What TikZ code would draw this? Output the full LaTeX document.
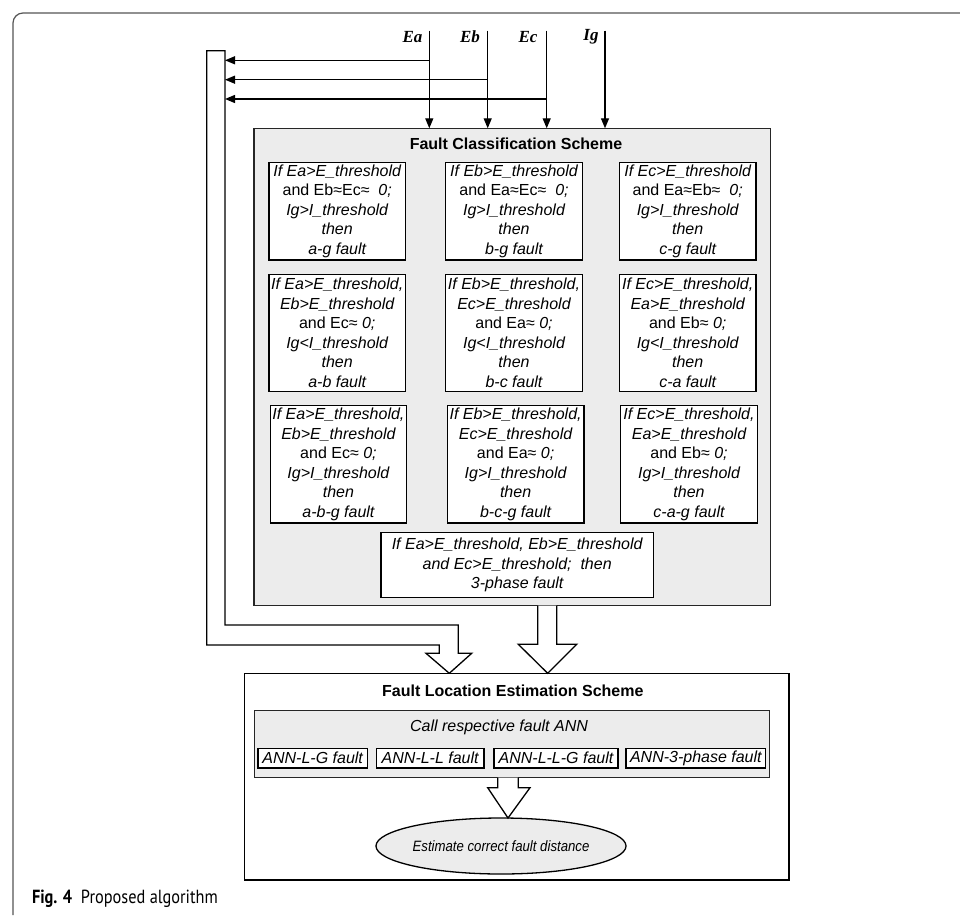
\documentclass[tikz,border=0pt]{standalone}
\usepackage{fontspec}
\setmainfont{Liberation Sans}
\newfontfamily\labelfont{Liberation Serif}
\newfontfamily\capfont[FakeStretch=0.86]{PT Sans}
\newfontfamily\narrowfont[FakeStretch=0.88]{Liberation Sans}
\usetikzlibrary{arrows.meta,shapes.geometric,calc}
\definecolor{panelgray}{HTML}{ECECEC}
\definecolor{framegray}{HTML}{555555}
\begin{document}
\begin{tikzpicture}[x=1pt,y=-1pt,
  every node/.style={inner sep=0pt, outer sep=0pt},
  txt/.style={font=\fontsize{16}{19.5}\selectfont\itshape, align=center},
  rulebox/.style={txt, draw=black, line width=1.3pt, fill=white},
  panel/.style={draw=black!85, line width=1.2pt, fill=panelgray},
  title/.style={font=\fontsize{16}{19.5}\selectfont\bfseries},
  inlabel/.style={font=\fontsize{17}{19}\selectfont\labelfont\bfseries\itshape},
  sig/.style={line width=1.3pt, -{Triangle[length=10pt,width=8pt]}},
  hollow/.style={draw=black, line width=1.3pt, fill=white, line join=miter},
  frame/.style={draw=framegray, line width=1.2pt}
]
\useasboundingbox (0,0) rectangle (960,915);

% page frame
\draw[frame, rounded corners=10pt] (13,915) -- (13,13) -- (960,13);

% caption
\node[anchor=base west, font=\fontsize{19}{21}\selectfont\capfont] (cap) at (32,903) {\textbf{Fig. 4}\ \ Proposed algorithm};

% classification panel
\node[panel, minimum width=516.7pt, minimum height=477.4pt] (fcs) at (512.35,367) {};
\node[title] (fcst) at (516,144) {Fault Classification Scheme};

% row 1
\node[rulebox, minimum width=136.5pt, minimum height=97.5pt] (b11) at (337.2,211.3)
 {If Ea>E\_threshold\\\textup{and Eb≈Ec≈}\ \ 0;\\Ig>I\_threshold\\then\\a-g fault};
\node[rulebox, minimum width=136.5pt, minimum height=97.5pt] (b12) at (514,211.3)
 {If Eb>E\_threshold\\\textup{and Ea≈Ec≈}\ \ 0;\\Ig>I\_threshold\\then\\b-g fault};
\node[rulebox, minimum width=136.5pt, minimum height=97.5pt] (b13) at (687.7,211.3)
 {If Ec>E\_threshold\\\textup{and Ea≈Eb≈}\ \ 0;\\Ig>I\_threshold\\then\\c-g fault};
% row 2
\node[rulebox, minimum width=136.5pt, minimum height=117.4pt] (b21) at (337.2,333)
 {If Ea>E\_threshold,\\Eb>E\_threshold\\\textup{and Ec≈} 0;\\Ig<I\_threshold\\then\\a-b fault};
\node[rulebox, minimum width=136.5pt, minimum height=117.4pt] (b22) at (514,333)
 {If Eb>E\_threshold,\\Ec>E\_threshold\\\textup{and Ea≈} 0;\\Ig<I\_threshold\\then\\b-c fault};
\node[rulebox, minimum width=136.5pt, minimum height=117.4pt] (b23) at (687.7,333)
 {If Ec>E\_threshold,\\Ea>E\_threshold\\\textup{and Eb≈} 0;\\Ig<I\_threshold\\then\\c-a fault};
% row 3
\node[rulebox, minimum width=136.5pt, minimum height=117.3pt] (b31) at (338.4,464.4)
 {If Ea>E\_threshold,\\Eb>E\_threshold\\\textup{and Ec≈} 0;\\Ig>I\_threshold\\then\\a-b-g fault};
\node[rulebox, minimum width=136.5pt, minimum height=117.3pt] (b32) at (515.6,464.4)
 {If Eb>E\_threshold,\\Ec>E\_threshold\\\textup{and Ea≈} 0;\\Ig>I\_threshold\\then\\b-c-g fault};
\node[rulebox, minimum width=136.5pt, minimum height=117.3pt] (b33) at (689,464.4)
 {If Ec>E\_threshold,\\Ea>E\_threshold\\\textup{and Eb≈} 0;\\Ig>I\_threshold\\then\\c-a-g fault};
% row 4
\node[rulebox, minimum width=272.3pt, minimum height=65.4pt] (b4) at (517.2,565)
 {If Ea>E\_threshold, Eb>E\_threshold\\and Ec>E\_threshold;\ \ then\\3-phase fault};

% input signals
\node[inlabel] (lEa) at (412.5,37) {Ea};
\node[inlabel] (lEb) at (470,37) {Eb};
\node[inlabel] (lEc) at (528,37) {Ec};
\node[inlabel] (lIg) at (591,37) {Ig};
\coordinate (sEa) at (429.3,30.7);
\coordinate (sEb) at (487.7,30.7);
\coordinate (sEc) at (546.7,30.7);
\coordinate (sIg) at (605,30.7);
\draw[sig] (sEa) -- (sEa |- fcs.north);
\draw[sig] (sEb) -- (sEb |- fcs.north);
\draw[sig] (sEc) -- (sEc |- fcs.north);
\draw[sig] (sIg) -- (sIg |- fcs.north);

% bypass hollow arrow (voltages to location scheme)
\coordinate (bypTL) at (206.7,50.7);
\coordinate (bypTR) at (225,50.7);
\draw[hollow] (bypTL) -- (bypTR) -- (225,625) -- (458.3,625) -- (458.3,653.3) -- (471.7,653.3)
  -- (449.3,673.3) -- (426,653.3) -- (439.3,653.3) -- (439.3,645) -- (206.7,645) -- cycle;
\draw[sig] (sEa |- 0,60.3) -- (bypTR |- 0,60.3);
\draw[sig] (sEb |- 0,79.7) -- (bypTR |- 0,79.7);
\draw[sig] (sEc |- 0,99) -- (bypTR |- 0,99);

% location estimation scheme
\node[draw=black, line width=1.3pt, fill=white, minimum width=544.7pt, minimum height=206.7pt] (fle) at (516.65,776.65) {};
\node[title] (flet) at (512.8,690.8) {Fault Location Estimation Scheme};
\node[panel, minimum width=515pt, minimum height=67.1pt] (call) at (511.9,744.05) {};
\node[txt] (callt) at (499,727.7) {Call respective fault ANN};
\node[rulebox, minimum width=109.4pt, minimum height=19.8pt] (ann1) at (312.7,758.1) {ANN-L-G fault};
\node[rulebox, minimum width=107.6pt, minimum height=19.8pt] (ann2) at (430.2,758.1) {ANN-L-L fault};
\node[rulebox, minimum width=124pt, minimum height=19.8pt] (ann3) at (556,758.1) {ANN-L-L-G fault};
\node[rulebox, minimum width=139.9pt, minimum height=19.8pt] (ann4) at (695.85,758.1) {ANN-3-phase fault};

% hollow arrow classification -> location
\draw[hollow] (537.7,605.7) -- (537.7,644.3) -- (518.3,644.3) -- (547.7,673.3)
  -- (576.7,644.3) -- (556.7,644.3) -- (556.7,605.7);

% estimate ellipse
\node[ellipse, draw=black, line width=1.3pt, fill=panelgray, minimum width=230pt, minimum height=56pt,
  font=\fontsize{15}{18}\selectfont\narrowfont\itshape] (est) at (501,846) {Estimate correct fault distance};

% hollow arrow call -> estimate
\draw[hollow] (497.7,777.6) -- (497.7,787.7) -- (487.7,787.7) -- (508,818)
  -- (530,787.7) -- (518.2,787.7) -- (518.2,777.6);
\end{tikzpicture}
\end{document}
